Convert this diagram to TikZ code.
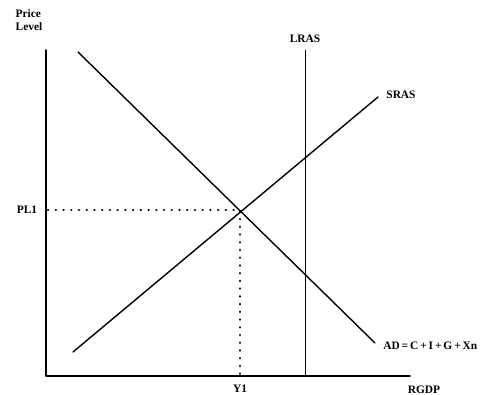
\documentclass[tikz,border=0pt]{standalone}
\usepackage{fontspec}
\setmainfont{Liberation Serif}
\begin{document}
\begin{tikzpicture}[x=0.02cm, y=-0.02cm, font=\fontsize{6.5}{7.5}\selectfont\bfseries, line join=round, line cap=round]
	\useasboundingbox (0,0) rectangle (491,395);
	\tikzset{curve/.style={line width=0.8pt}, dotline/.style={line width=1.4pt, dash pattern=on 0.1pt off 4.3pt}}
	\coordinate (O) at (46, 376);
	\coordinate (top) at (46, 50);
	\coordinate (xend) at (410, 376);
	\coordinate (E) at (240, 210);
	\coordinate (PL) at (48, 210);
	\coordinate (Y) at (240, 374);
	\coordinate (Ltop) at (305, 50);
	\coordinate (Lbot) at (305, 376);
	\coordinate (S1) at (73, 352);
	\coordinate (S2) at (378, 97);
	\coordinate (D1) at (78, 52);
	\coordinate (D2) at (375, 343);
	% axes
	\draw[line width=1.1pt] (top) -- (O) -- (xend);
	% curves
	\draw[line width=0.45pt] (Ltop) -- (Lbot);
	\draw[curve] (S1) -- (S2);
	\draw[curve] (D1) -- (D2);
	% equilibrium
	\draw[dotline] (PL) -- (E) -- (Y);
	% labels
	\node[align=left, inner sep=0pt] (pl) at (29, 20) {Price\\Level};
	\node (lras) at (305, 39) {LRAS};
	\node (sras) at (401, 95) {SRAS};
	\node[anchor=west, inner sep=0pt] (ad) at (383, 346) {AD\,=\,C\,+\,I\,+\,G\,+\,Xn};
	\node (pl1) at (27, 210) {PL1};
	\node (y1) at (240, 389) {Y1};
	\node (rgdp) at (424, 390) {RGDP};
\end{tikzpicture}
\end{document}
